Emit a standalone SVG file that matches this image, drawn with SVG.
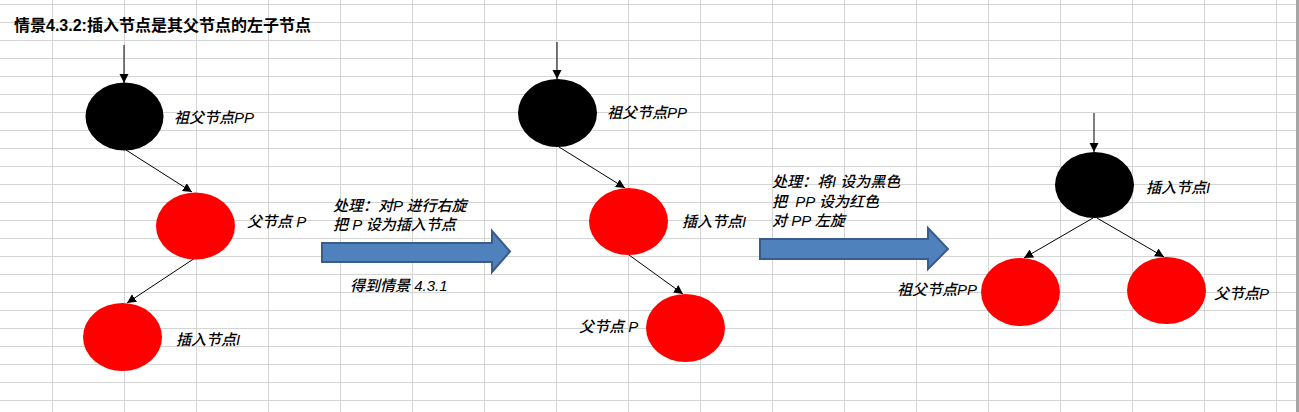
<svg xmlns="http://www.w3.org/2000/svg" width="1299" height="412" viewBox="0 0 1299 412">
<style>
.grid line{stroke:#d4d4d4;stroke-width:1}
.edge{stroke:#000;stroke-width:1;fill:none}
.blk{fill:#000}
.red{fill:#ff0000}
.lbl{font-family:"Liberation Sans","Noto Sans CJK SC",sans-serif;font-size:15px;font-style:italic;font-weight:500;fill:#000;dominant-baseline:central;white-space:pre}
.title{font-family:"Liberation Sans","Noto Sans CJK SC",sans-serif;font-size:16px;font-weight:bold;fill:#000;dominant-baseline:central}
.barrow{fill:#4f81bd;stroke:#385d8a;stroke-width:2}
</style>
<defs>
<marker id="ah" markerUnits="userSpaceOnUse" markerWidth="10" markerHeight="10" refX="9" refY="5" orient="auto">
<path d="M0,0.5 L9,5 L0,9.5 Z" fill="#000"/>
</marker>
</defs>
<rect width="1299" height="412" fill="#fff"/>
<g class="grid">
<line x1="0" y1="4.5" x2="1299" y2="4.5"/><line x1="0" y1="22.5" x2="1299" y2="22.5"/><line x1="0" y1="40.5" x2="1299" y2="40.5"/><line x1="0" y1="58.5" x2="1299" y2="58.5"/><line x1="0" y1="76.5" x2="1299" y2="76.5"/><line x1="0" y1="94.5" x2="1299" y2="94.5"/><line x1="0" y1="112.5" x2="1299" y2="112.5"/><line x1="0" y1="130.5" x2="1299" y2="130.5"/><line x1="0" y1="148.5" x2="1299" y2="148.5"/><line x1="0" y1="166.5" x2="1299" y2="166.5"/><line x1="0" y1="184.5" x2="1299" y2="184.5"/><line x1="0" y1="202.5" x2="1299" y2="202.5"/><line x1="0" y1="220.5" x2="1299" y2="220.5"/><line x1="0" y1="238.5" x2="1299" y2="238.5"/><line x1="0" y1="256.5" x2="1299" y2="256.5"/><line x1="0" y1="274.5" x2="1299" y2="274.5"/><line x1="0" y1="292.5" x2="1299" y2="292.5"/><line x1="0" y1="310.5" x2="1299" y2="310.5"/><line x1="0" y1="328.5" x2="1299" y2="328.5"/><line x1="0" y1="346.5" x2="1299" y2="346.5"/><line x1="0" y1="364.5" x2="1299" y2="364.5"/><line x1="0" y1="382.5" x2="1299" y2="382.5"/><line x1="0" y1="400.5" x2="1299" y2="400.5"/>
<line x1="52.5" y1="0" x2="52.5" y2="412"/><line x1="124.5" y1="0" x2="124.5" y2="412"/><line x1="196.5" y1="0" x2="196.5" y2="412"/><line x1="268.5" y1="0" x2="268.5" y2="412"/><line x1="340.5" y1="0" x2="340.5" y2="412"/><line x1="412.5" y1="0" x2="412.5" y2="412"/><line x1="484.5" y1="0" x2="484.5" y2="412"/><line x1="556.5" y1="0" x2="556.5" y2="412"/><line x1="628.5" y1="0" x2="628.5" y2="412"/><line x1="700.5" y1="0" x2="700.5" y2="412"/><line x1="772.5" y1="0" x2="772.5" y2="412"/><line x1="844.5" y1="0" x2="844.5" y2="412"/><line x1="916.5" y1="0" x2="916.5" y2="412"/><line x1="988.5" y1="0" x2="988.5" y2="412"/><line x1="1060.5" y1="0" x2="1060.5" y2="412"/><line x1="1132.5" y1="0" x2="1132.5" y2="412"/><line x1="1204.5" y1="0" x2="1204.5" y2="412"/><line x1="1276.5" y1="0" x2="1276.5" y2="412"/>
</g>
<rect x="1296" y="0" width="3" height="412" fill="#a6a6a6"/>
<text class="title" x="14" y="25">情景4.3.2:插入节点是其父节点的左子节点</text>

<g id="connectors">
<line class="edge" x1="124" y1="45" x2="124" y2="83" marker-end="url(#ah)"/>
<line class="edge" x1="126" y1="150" x2="192" y2="192" marker-end="url(#ah)"/>
<line class="edge" x1="195" y1="258" x2="127" y2="303" marker-end="url(#ah)"/>
<line class="edge" x1="557" y1="42" x2="557" y2="79" marker-end="url(#ah)"/>
<line class="edge" x1="559" y1="147" x2="625" y2="188" marker-end="url(#ah)"/>
<line class="edge" x1="629" y1="255" x2="683" y2="294" marker-end="url(#ah)"/>
<line class="edge" x1="1094" y1="113" x2="1094" y2="152" marker-end="url(#ah)"/>
<line class="edge" x1="1093" y1="218" x2="1024" y2="258" marker-end="url(#ah)"/>
<line class="edge" x1="1097" y1="218" x2="1164" y2="257" marker-end="url(#ah)"/>
<polygon class="barrow" points="322,243 492,243 492,231 510,251.5 492,272 492,262 322,262"/>
<polygon class="barrow" points="760,239 928,239 928,228 948,249 928,269 928,259 760,259"/>
</g>

<g id="t1-pp"><ellipse class="blk" cx="124.5" cy="116.5" rx="39" ry="34"/><text class="lbl" x="174" y="117">祖父节点PP</text></g>
<g id="t1-p"><ellipse class="red" cx="195.5" cy="226" rx="39.5" ry="33.5"/><text class="lbl" x="247" y="221">父节点 P</text></g>
<g id="t1-i"><ellipse class="red" cx="122.5" cy="337" rx="39.5" ry="34"/><text class="lbl" x="176" y="339">插入节点I</text></g>

<g id="step1">
<text class="lbl" x="333" y="205">处理：对P 进行右旋</text>
<text class="lbl" x="333" y="224">把 P 设为插入节点</text>
<text class="lbl" x="350" y="285">得到情景 4.3.1</text>
</g>

<g id="t2-pp"><ellipse class="blk" cx="557.5" cy="113" rx="39.5" ry="34"/><text class="lbl" x="607" y="112">祖父节点PP</text></g>
<g id="t2-i"><ellipse class="red" cx="628.5" cy="221.5" rx="39.5" ry="33.5"/><text class="lbl" x="682" y="221">插入节点I</text></g>
<g id="t2-p"><ellipse class="red" cx="685.5" cy="328" rx="39.5" ry="34"/><text class="lbl" x="579" y="326">父节点 P</text></g>

<g id="step2">
<text class="lbl" x="772" y="181">处理：将I 设为黑色</text>
<text class="lbl" x="772" y="201">把  PP 设为红色</text>
<text class="lbl" x="772" y="220">对 PP 左旋</text>
</g>

<g id="t3-i"><ellipse class="blk" cx="1094.5" cy="185" rx="39.5" ry="33"/><text class="lbl" x="1146" y="187">插入节点I</text></g>
<g id="t3-pp"><ellipse class="red" cx="1020.5" cy="292" rx="39.5" ry="34"/><text class="lbl" x="897" y="289">祖父节点PP</text></g>
<g id="t3-p"><ellipse class="red" cx="1166.5" cy="290.5" rx="39.5" ry="33.5"/><text class="lbl" x="1214" y="293">父节点P</text></g>
</svg>
